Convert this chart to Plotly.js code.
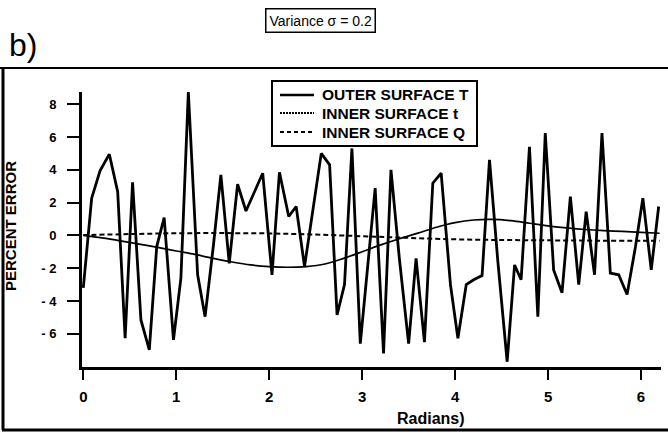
<!DOCTYPE html>
<html>
<head>
<meta charset="utf-8">
<script src="https://cdn.plot.ly/plotly-3.0.1.min.js"></script>
<style>
  html, body { margin: 0; padding: 0; background: #fff; }
  #chart { width: 668px; height: 434px; }
</style>
</head>
<body>
<div id="chart"></div>
<script>
// Outer surface T (noisy series)
const radiansT = [0.00,0.09,0.18,0.28,0.37,0.45,0.53,0.62,0.71,0.79,0.87,0.97,1.05,1.13,1.23,1.31,1.40,1.48,1.57,1.66,1.75,1.84,1.93,2.03,2.11,2.21,2.29,2.38,2.47,2.56,2.65,2.73,2.81,2.89,2.98,3.06,3.14,3.23,3.31,3.40,3.50,3.58,3.67,3.76,3.85,3.95,4.03,4.12,4.20,4.29,4.37,4.46,4.56,4.64,4.71,4.80,4.89,4.97,5.06,5.15,5.24,5.33,5.41,5.50,5.58,5.67,5.76,5.85,5.94,6.02,6.11,6.19];
const outerT = [-3.2,2.27,3.93,4.95,2.67,-6.27,3.24,-5.15,-6.98,-0.68,1.09,-6.37,-2.6,8.73,-2.4,-4.95,-0.6,3.69,-1.7,3.12,1.49,2.6,3.79,-2.4,3.85,1.15,1.76,-1.9,1.55,5.0,4.3,-4.85,-3.0,5.3,-6.6,-1.9,2.88,-7.2,4.0,-1.4,-6.6,-1.4,-6.5,3.18,3.8,-3.0,-6.27,-3.0,-2.7,-2.45,4.6,-1.6,-7.7,-1.8,-2.7,5.4,-4.95,6.23,-2.1,-3.5,2.37,-3.0,1.45,-2.4,6.23,-2.3,-2.4,-3.6,-0.7,2.27,-2.1,1.76];

// Inner surface t (smooth series)
const radiansInT = [0,0.2,0.4,0.6,0.8,1.0,1.2,1.4,1.6,1.8,2.0,2.2,2.4,2.6,2.8,3.0,3.2,3.4,3.6,3.8,4.0,4.2,4.4,4.6,4.8,5.0,5.2,5.4,5.6,5.8,6.0,6.2];
const innerT = [0,-0.15,-0.33,-0.53,-0.73,-0.95,-1.16,-1.4,-1.62,-1.8,-1.9,-1.94,-1.9,-1.74,-1.4,-1.0,-0.58,-0.2,0.14,0.5,0.78,0.94,0.98,0.9,0.74,0.58,0.46,0.36,0.29,0.24,0.18,0.13];

// Inner surface Q (dashed series)
const radiansQ = [0,0.5,1.0,1.5,2.0,2.5,3.0,3.5,4.0,4.5,5.0,5.5,6.0,6.2];
const innerQ = [0.02,0.08,0.13,0.14,0.12,0.05,-0.05,-0.15,-0.24,-0.28,-0.3,-0.32,-0.33,-0.33];

const seriesNames = ['OUTER SURFACE T', 'INNER SURFACE t', 'INNER SURFACE Q'];
const xTickVals = [0,1,2,3,4,5,6];
const xTickText = ['0','1','2','3','4','5','6'];
const yTickVals = [-6,-4,-2,0,2,4,6,8];
const yTickText = ['- 6','- 4','- 2','0','2','4','6','8'];

const FONT = 'Liberation Sans, Arial, Helvetica, sans-serif';

const lineStyles = [
  { color: '#000', width: 2.8 },
  { color: '#000', width: 1.7, shape: 'spline' },
  { color: '#000', width: 2, dash: '5px,3px', shape: 'spline' }
];

const traces = [
  { x: radiansT, y: outerT, name: seriesNames[0], mode: 'lines', line: lineStyles[0] },
  { x: radiansInT, y: innerT, name: seriesNames[1], mode: 'lines', line: lineStyles[1] },
  { x: radiansQ, y: innerQ, name: seriesNames[2], mode: 'lines', line: lineStyles[2] }
];

// paper helpers (plot area: left 82, top 92, width 579, height 275)
const L = 82, T = 92, W = 579, H = 275;
const px = v => (v - L) / W;
const py = v => (T + H - v) / H;

// legend drawn as box + samples + labels
const legRows = [95, 113, 132];
const legendShapes = [
  { type: 'rect', xref: 'paper', yref: 'paper', x0: px(272), x1: px(477), y0: py(81), y1: py(146),
    fillcolor: '#fff', line: { color: '#000', width: 2 } }
];
const legendNotes = [];
seriesNames.forEach((n, i) => {
  legendShapes.push({ type: 'line', xref: 'paper', yref: 'paper', x0: px(280), x1: px(314),
    y0: py(legRows[i]), y1: py(legRows[i]),
    line: { color: '#000', width: i === 0 ? 2.5 : 1.8, dash: i === 0 ? 'solid' : (i === 1 ? '2px,1px' : '4px,3px') } });
  legendNotes.push({ xref: 'paper', yref: 'paper', x: px(320), y: py(legRows[i]), xanchor: 'left', yanchor: 'middle',
    text: n, showarrow: false, font: { family: FONT, size: 15.5, weight: 700, color: '#000' } });
});

const layout = {
  width: 668, height: 434,
  margin: { l: L, r: 668 - L - W, t: T, b: 434 - T - H, pad: 0 },
  paper_bgcolor: '#fff', plot_bgcolor: '#fff',
  font: { family: FONT, color: '#000' },
  showlegend: false,
  xaxis: {
    range: [-0.014, 6.215], showgrid: false, zeroline: false,
    showline: true, linecolor: '#000', linewidth: 3,
    ticks: 'outside', ticklen: 10, tickwidth: 2, tickcolor: '#000',
    tickvals: xTickVals, ticktext: xTickText, ticklabelstandoff: 4,
    tickfont: { family: FONT, size: 15, weight: 700, color: '#000' }
  },
  yaxis: {
    range: [-8.02, 8.74], showgrid: false, zeroline: false,
    showline: true, linecolor: '#000', linewidth: 3,
    ticks: 'outside', ticklen: 12, tickwidth: 2, tickcolor: '#000',
    tickvals: yTickVals, ticktext: yTickText, ticklabelstandoff: 8,
    tickfont: { family: FONT, size: 13, weight: 700, color: '#000' }
  },
  annotations: [
    { xref: 'paper', yref: 'paper', x: px(7), y: py(45), xanchor: 'left', yanchor: 'middle',
      text: 'b)', showarrow: false, font: { family: FONT, size: 32, color: '#000' } },
    { xref: 'paper', yref: 'paper', x: px(320), y: py(20), xanchor: 'center', yanchor: 'middle',
      text: 'Variance σ = 0.2', showarrow: false, bordercolor: '#000', borderwidth: 1.5, borderpad: 3,
      font: { family: FONT, size: 14, color: '#000' } },
    { xref: 'paper', yref: 'paper', x: px(10), y: py(226), xanchor: 'center', yanchor: 'middle',
      text: 'PERCENT ERROR', textangle: -90, showarrow: false,
      font: { family: FONT, size: 15, weight: 700, color: '#000' } },
    { xref: 'paper', yref: 'paper', x: px(431), y: py(418), xanchor: 'center', yanchor: 'middle',
      text: 'Radians)', showarrow: false,
      font: { family: FONT, size: 16, weight: 700, color: '#000' } }
  ].concat(legendNotes),
  shapes: [
    { type: 'line', xref: 'paper', yref: 'paper', x0: px(0), x1: px(668), y0: py(68), y1: py(68), line: { color: '#000', width: 2 } },
    { type: 'line', xref: 'paper', yref: 'paper', x0: px(3), x1: px(3), y0: py(68), y1: py(430), line: { color: '#000', width: 3 } },
    { type: 'line', xref: 'paper', yref: 'paper', x0: px(2), x1: px(668), y0: py(430), y1: py(430), line: { color: '#000', width: 3 } }
  ].concat(legendShapes)
};

Plotly.newPlot('chart', traces, layout, { displayModeBar: false, staticPlot: true });
</script>
</body>
</html>
